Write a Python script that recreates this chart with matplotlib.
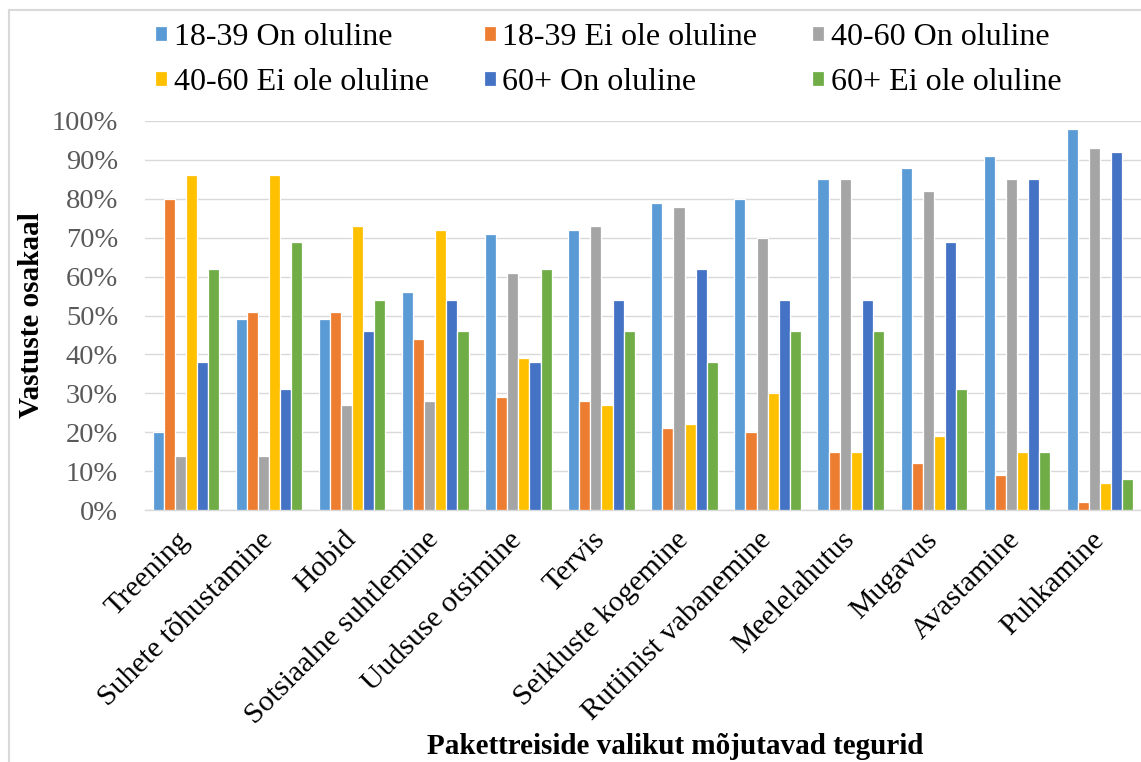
import numpy as np
import matplotlib
matplotlib.use("Agg")
import matplotlib.pyplot as plt
import matplotlib.transforms as mtransforms
from matplotlib.lines import Line2D

plt.rcParams['font.family'] = ['Liberation Serif', 'DejaVu Serif']

# data (percent)
categories = ["Treening", "Suhete tõhustamine", "Hobid", "Sotsiaalne suhtlemine",
              "Uudsuse otsimine", "Tervis", "Seikluste kogemine", "Rutiinist vabanemine",
              "Meelelahutus", "Mugavus", "Avastamine", "Puhkamine"]
series_names = ["18-39 On oluline", "18-39 Ei ole oluline", "40-60 On oluline",
                "40-60 Ei ole oluline", "60+ On oluline", "60+ Ei ole oluline"]
young_yes = [20, 49, 49, 56, 71, 72, 79, 80, 85, 88, 91, 98]
young_no = [80, 51, 51, 44, 29, 28, 21, 20, 15, 12, 9, 2]
mid_yes = [14, 14, 27, 28, 61, 73, 78, 70, 85, 82, 85, 93]
mid_no = [86, 86, 73, 72, 39, 27, 22, 30, 15, 19, 15, 7]
old_yes = [38, 31, 46, 54, 38, 54, 62, 54, 54, 69, 85, 92]
old_no = [62, 69, 54, 46, 62, 46, 38, 46, 46, 31, 15, 8]
colors = ["#5B9BD5", "#ED7D31", "#A5A5A5", "#FFC000", "#4472C4", "#70AD47"]

W, H = 1141, 762
fig = plt.figure(figsize=(W / 100, H / 100), dpi=100)
ax = fig.add_axes([144.5 / W, 1 - 510 / H, (1141.5 - 144.5) / W, (510 - 121) / H])

all_series = [young_yes, young_no, mid_yes, mid_no, old_yes, old_no]
x = np.arange(len(categories))
slot = 0.8 / 6
handles = []
for k, vals in enumerate(all_series):
    offs = (k - 2.5) * slot
    b = ax.bar(x + offs, np.array(vals) / 100, width=slot, color=colors[k],
               edgecolor="white", linewidth=0.9, zorder=3, label=series_names[k])
    handles.append(b)

ax.set_xlim(-0.5, len(categories) - 0.5)
ax.set_ylim(0, 1.0)
ax.set_yticks(np.arange(0, 1.01, 0.1))
ax.set_yticklabels([f"{int(round(v * 100))}%" for v in np.arange(0, 1.01, 0.1)],
                   fontsize=20.5, color="#595959")
ax.yaxis.grid(True, color="#D9D9D9", linewidth=1.0, zorder=0)
ax.tick_params(axis="y", length=0, pad=19)
ax.tick_params(axis="x", length=0, pad=12)
for s in ["top", "right", "left"]:
    ax.spines[s].set_visible(False)
ax.spines["bottom"].set_color("#D9D9D9")
ax.spines["bottom"].set_linewidth(1.0)

ax.set_xticks(x)
ax.set_xticklabels(categories, rotation=45, ha="right", va="top", fontsize=21.5)
shift = mtransforms.ScaledTranslation(9 / 100, 0, fig.dpi_scale_trans)
for lbl in ax.get_xticklabels():
    lbl.set_transform(lbl.get_transform() + shift)

fig.text(32 / W, 1 - 315 / H, "Vastuste osakaal", rotation=90, ha="center", va="center",
         fontsize=21, fontweight="bold")
fig.text(675 / W, 1 - 746 / H, "Pakettreiside valikut mõjutavad tegurid", ha="center",
         va="center", fontsize=21, fontweight="bold")

# legend filled row-wise like the original
order = [0, 3, 1, 4, 2, 5]
fig.legend([handles[i] for i in order], [series_names[i] for i in order],
           ncol=3, loc="upper left", bbox_to_anchor=(155 / W, 1 - 23 / H),
           frameon=False, fontsize=23, handlelength=0.38, handleheight=0.38,
           handletextpad=0.2, columnspacing=1.72, labelspacing=0.5, borderpad=0,
           borderaxespad=0)

# light border of the chart frame (cropped on the right and bottom)
fig.add_artist(Line2D([9 / W, 9 / W], [0, 1 - 10 / H], transform=fig.transFigure,
                      color="#D9D9D9", linewidth=1.5))
fig.add_artist(Line2D([9 / W, 1], [1 - 10 / H, 1 - 10 / H], transform=fig.transFigure,
                      color="#D9D9D9", linewidth=1.5))

fig.savefig("out.png", dpi=100)
